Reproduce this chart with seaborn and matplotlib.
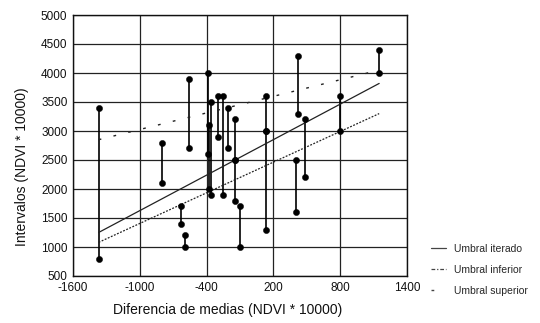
import matplotlib
matplotlib.use("Agg")
import matplotlib.pyplot as plt
from matplotlib.lines import Line2D
import seaborn as sns
import pandas as pd
import numpy as np

# ---- data ----
seg_x  = [-1370, -800, -630, -590, -560, -390, -375, -360, -300, -255, -210, -145, -145, -100, 130, 130, 400, 420, 480, 800, 1150]
seg_hi = [3400, 2800, 1700, 1200, 3900, 4000, 3100, 3500, 3600, 3600, 3400, 3200, 2500, 1700, 3600, 3000, 2500, 4300, 3200, 3600, 4400]
seg_lo = [800, 2100, 1400, 1000, 2700, 2600, 2000, 1900, 2900, 1900, 2700, 2500, 1800, 1000, 3000, 1300, 1600, 3300, 2200, 3000, 4000]

line_x = [-1370, 1150]
iterado = [1250, 3820]
inferior = [1080, 3300]
superior = [2850, 4050]

x_ticks = [-1600, -1000, -400, 200, 800, 1400]
y_ticks = [500, 1000, 1500, 2000, 2500, 3000, 3500, 4000, 4500, 5000]
labels = ["Umbral iterado", "Umbral inferior", "Umbral superior"]

sns.set_style("white")
plt.rcParams['font.family'] = ['Liberation Sans', 'DejaVu Sans']

fig = plt.figure(figsize=(5.4, 3.23), dpi=100)
ax = fig.add_axes([73/540, 1-276/323, (407-73)/540, (276-15)/323])

# grid
for xv in x_ticks:
    ax.axvline(xv, color='#222222', lw=0.9, zorder=0)
for yv in y_ticks:
    ax.axhline(yv, color='#222222', lw=0.9, zorder=0)

# segments
ax.vlines(seg_x, seg_lo, seg_hi, color='black', lw=1.2, zorder=2)
pts = pd.DataFrame({"x": seg_x + seg_x, "y": seg_hi + seg_lo})
sns.scatterplot(data=pts, x="x", y="y", ax=ax, color='black', s=20, edgecolor='black', linewidth=0.3, zorder=3, legend=False)

# threshold lines
df = pd.DataFrame({"x": line_x * 3,
                   "y": iterado + inferior + superior,
                   "serie": [labels[0]]*2 + [labels[1]]*2 + [labels[2]]*2})
sns.lineplot(data=df[df.serie == labels[0]], x="x", y="y", ax=ax, color='#222222', lw=0.9, legend=False)
sns.lineplot(data=df[df.serie == labels[1]], x="x", y="y", ax=ax, color='#222222', lw=0.9, legend=False,
             linestyle=(0, (1.5, 1.2)))
sns.lineplot(data=df[df.serie == labels[2]], x="x", y="y", ax=ax, color='#222222', lw=1.0, legend=False,
             linestyle=(0, (2.0, 9.0)))

ax.set_xlim(-1600, 1400)
ax.set_ylim(500, 5000)
ax.set_xticks(x_ticks)
ax.set_xticklabels([str(v) for v in x_ticks])
ax.set_yticks(y_ticks)
ax.tick_params(axis='both', length=0, labelsize=8.5, colors='#111111', pad=4)
ax.set_xlabel("")
ax.set_ylabel("")
for s in ax.spines.values():
    s.set_color('#111111')
    s.set_linewidth(1.0)

fig.text(228/540, 1-310/323, "Diferencia de medias (NDVI * 10000)", ha='center', va='center', fontsize=10, color='#111111')
fig.text(22/540, 1-167/323, "Intervalos (NDVI * 10000)", ha='center', va='center', rotation=90, fontsize=10, color='#111111')

handles = [Line2D([], [], color='#444444', lw=0.9),
           Line2D([], [], color='#444444', lw=0.9, linestyle=(0, (3, 1.5, 1, 1.5))),
           Line2D([], [], color='#444444', lw=1.0, linestyle=(0, (2, 20)))]
fig.legend(handles, labels, loc='upper left', bbox_to_anchor=(431/540, 1-244/323),
           bbox_transform=fig.transFigure, frameon=False, fontsize=7.5,
           handlelength=1.4, handletextpad=0.8, labelspacing=1.05, borderpad=0, borderaxespad=0)

fig.savefig("out.png", dpi=100)
